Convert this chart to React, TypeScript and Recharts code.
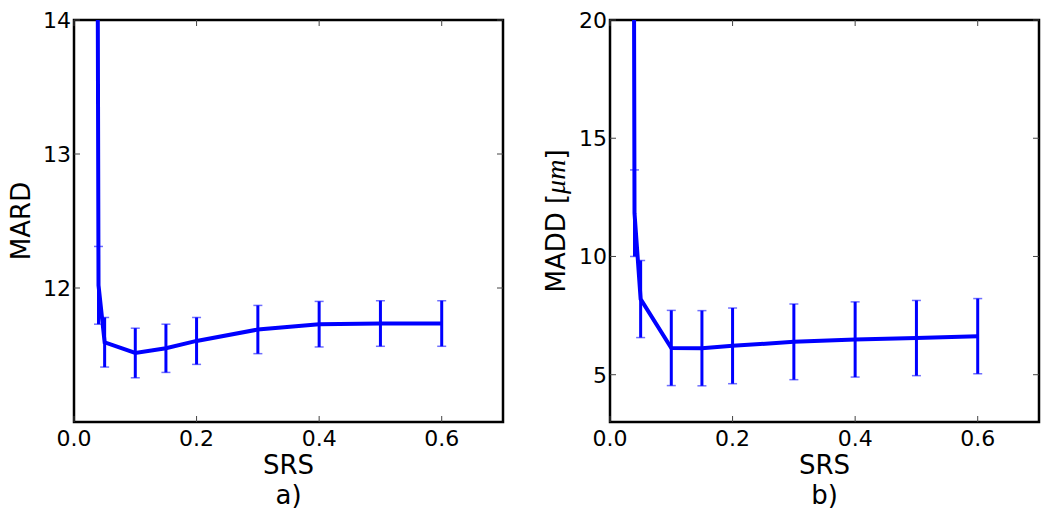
import { LineChart, Line, XAxis, YAxis, ErrorBar, ReferenceArea } from "recharts";

// sampling rate (SRS) values, shared by both panels
const srs = [0.0375, 0.04, 0.05, 0.1, 0.15, 0.2, 0.3, 0.4, 0.5, 0.6];

// panel a) MARD
const mard = [16.3, 12.02, 11.595, 11.515, 11.55, 11.605, 11.69, 11.73, 11.735, 11.735];
const mardErr = [1.0, 0.29, 0.185, 0.185, 0.18, 0.175, 0.18, 0.17, 0.17, 0.17];

// panel b) MADD [um]
const madd = [40, 11.83, 8.2, 6.13, 6.12, 6.22, 6.39, 6.49, 6.55, 6.63];
const maddErr = [5, 1.83, 1.63, 1.59, 1.59, 1.6, 1.6, 1.59, 1.59, 1.59];

const xTicks = [0, 0.2, 0.4, 0.6];
const mardTicks = [12, 13, 14];
const maddTicks = [5, 10, 15, 20];

const FONT = "DejaVu Sans";
const BLUE = "#0000ff";
const PLOT_TOP = 20;
const PLOT_W = 429;
const PLOT_H = 402;
const TICK_LEN = 6;

type PanelProps = {
  values: number[];
  errors: number[];
  yDomain: [number, number];
  yTicks: number[];
  axisWidth: number;
  rightMargin: number;
  yLabel: React.ReactNode;
  caption: string;
};

function Panel({ values, errors, yDomain, yTicks, axisWidth, rightMargin, yLabel, caption }: PanelProps) {
  const data = srs.map((x, i) => ({ x, y: values[i], err: errors[i] }));
  const plotCenter = axisWidth + PLOT_W / 2;

  const XTick = (props: any) => {
    const { x, y, payload } = props;
    return (
      <g>
        <line x1={x} x2={x} y1={y} y2={y - TICK_LEN} stroke="#444" strokeWidth={1} />
        <line x1={x} x2={x} y1={PLOT_TOP} y2={PLOT_TOP + TICK_LEN} stroke="#444" strokeWidth={1} />
        <text x={x} y={y + 24} textAnchor="middle" fontSize={22} fontFamily={FONT} fill="#000">
          {Number(payload.value).toFixed(1)}
        </text>
      </g>
    );
  };

  const YTick = (props: any) => {
    const { x, y, payload } = props;
    return (
      <g>
        <line x1={x} x2={x + TICK_LEN} y1={y} y2={y} stroke="#444" strokeWidth={1} />
        <line x1={x + PLOT_W - TICK_LEN} x2={x + PLOT_W} y1={y} y2={y} stroke="#444" strokeWidth={1} />
        <text x={x - 3} y={y} dy="0.36em" textAnchor="end" fontSize={22} fontFamily={FONT} fill="#000">
          {payload.value}
        </text>
      </g>
    );
  };

  return (
    <LineChart
      width={525}
      height={519}
      data={data}
      margin={{ top: PLOT_TOP, right: rightMargin, bottom: 0, left: 0 }}
    >
      <XAxis
        dataKey="x"
        type="number"
        domain={[0, 0.7]}
        ticks={xTicks}
        interval={0}
        height={97}
        tickSize={0}
        tickMargin={0}
        axisLine={false}
        tickLine={false}
        tick={XTick}
        label={{
          content: () => (
            <g fontFamily={FONT} fontSize={26} fill="#000">
              <text x={plotCenter} y={474} textAnchor="middle">SRS</text>
              <text x={plotCenter} y={504} textAnchor="middle">{caption}</text>
            </g>
          ),
        }}
      />
      <YAxis
        type="number"
        domain={yDomain}
        allowDataOverflow
        ticks={yTicks}
        interval={0}
        width={axisWidth}
        tickSize={0}
        tickMargin={0}
        axisLine={false}
        tickLine={false}
        tick={YTick}
        label={{ content: () => yLabel }}
      />
      <ReferenceArea
        x1={0}
        x2={0.7}
        y1={yDomain[0]}
        y2={yDomain[1]}
        fill="none"
        fillOpacity={0}
        stroke="#000"
        strokeWidth={2.5}
        ifOverflow="visible"
      />
      <Line
        dataKey="y"
        type="linear"
        stroke={BLUE}
        strokeWidth={4}
        dot={false}
        activeDot={false}
        isAnimationActive={false}
      >
        {/* thin, light caps first, then the thick vertical bars over them */}
        <ErrorBar dataKey="err" width={4.5} strokeWidth={1.5} stroke="#6f6fff" direction="y" isAnimationActive={false} />
        <ErrorBar dataKey="err" width={0} strokeWidth={3} stroke={BLUE} direction="y" isAnimationActive={false} />
      </Line>
    </LineChart>
  );
}

export default function App() {
  const midY = PLOT_TOP + PLOT_H / 2;
  return (
    <div
      style={{
        position: "fixed",
        left: 0,
        top: 0,
        width: 1050,
        height: 519,
        background: "#fff",
        display: "flex",
      }}
    >
      <Panel
        values={mard}
        errors={mardErr}
        yDomain={[11, 14]}
        yTicks={mardTicks}
        axisWidth={74}
        rightMargin={22}
        caption="a)"
        yLabel={
          <text
            x={30}
            y={midY}
            transform={`rotate(-90, 30, ${midY})`}
            textAnchor="middle"
            fontFamily={FONT}
            fontSize={26}
            fill="#000"
          >
            MARD
          </text>
        }
      />
      <Panel
        values={madd}
        errors={maddErr}
        yDomain={[3, 20]}
        yTicks={maddTicks}
        axisWidth={85}
        rightMargin={11}
        caption="b)"
        yLabel={
          <text
            x={40}
            y={midY}
            transform={`rotate(-90, 40, ${midY})`}
            textAnchor="middle"
            fontFamily={FONT}
            fontSize={26}
            fill="#000"
          >
            MADD [
            <tspan fontFamily="Liberation Serif" fontStyle="italic" fontSize={28}>
              μm
            </tspan>
            ]
          </text>
        }
      />
    </div>
  );
}
